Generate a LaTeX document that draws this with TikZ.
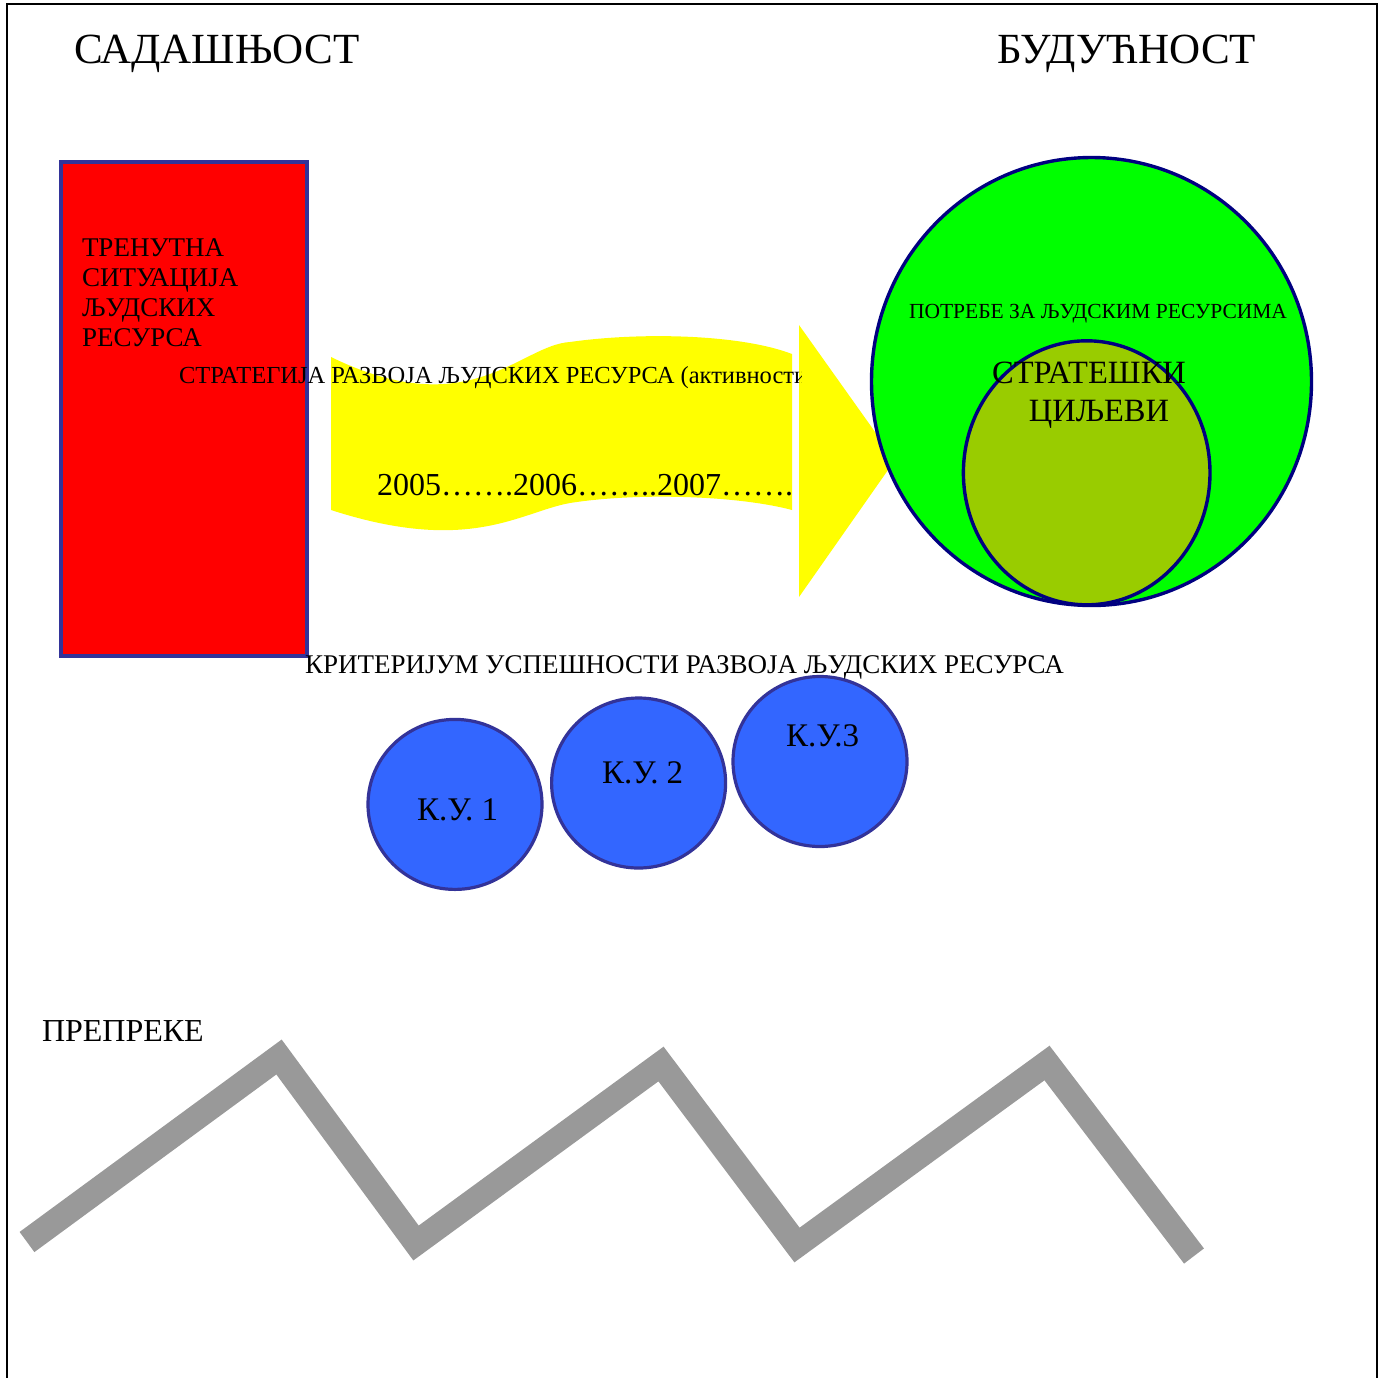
\documentclass[tikz,border=0pt]{standalone}
\usepackage{fontspec}
\setmainfont{Liberation Serif}
\definecolor{redc}{HTML}{FF0000}
\definecolor{bordc}{HTML}{333399}
\definecolor{yel}{HTML}{FFFF00}
\definecolor{grn}{HTML}{00FF00}
\definecolor{navyc}{HTML}{000080}
\definecolor{olivec}{HTML}{99CC00}
\definecolor{bluec}{HTML}{3366FF}
\definecolor{grayc}{HTML}{999999}
\begin{document}
\begin{tikzpicture}[x=1pt,y=-1pt,
  lbl/.style={inner sep=0pt, outer sep=0pt, anchor=base west},
  title/.style={lbl, font=\fontsize{43}{50}\selectfont},
  redtxt/.style={lbl, font=\fontsize{27}{30}\selectfont},
  kubox/.style={draw=bordc, fill=bluec, line width=3.2pt},
  kutxt/.style={lbl, font=\fontsize{33}{38}\selectfont},
  zig/.style={draw=grayc, line width=25pt, line cap=butt, line join=miter}]
\useasboundingbox (0,0) rectangle (1382,1377);
% frame
\draw[line width=1.6pt] (7,1385) -- (7,4) -- (1377,4) -- (1377,1385);
% titles
\node[title] (present) at (74,63) {САДАШЊОСТ};
\node[title] (future) at (997,63) {БУДУЋНОСТ};
% red box
\draw[fill=redc, draw=bordc, line width=4pt] (60.5,161.5) rectangle (307,655.5);
\node[redtxt] (r1) at (82,256) {ТРЕНУТНА};
\node[redtxt] (r2) at (82,286) {СИТУАЦИЈА};
\node[redtxt] (r3) at (82,316) {ЉУДСКИХ};
\node[redtxt] (r4) at (82,346) {РЕСУРСА};
% yellow wave and arrow head
\fill[yel] (331,357) .. controls (470,425) and (520,345) .. (570,342)
  .. controls (640,332) and (740,334) .. (792,354)
  -- (792,510) .. controls (740,496) and (640,492) .. (570,503)
  .. controls (520,512) and (470,555) .. (331,510) -- cycle;
\fill[yel] (799,325) -- (895,460) -- (799,597) -- cycle;
% green circles
\draw[fill=grn, draw=navyc, line width=3.4pt] (1091.5,381.5) ellipse [x radius=220pt, y radius=224pt];
\draw[fill=olivec, draw=navyc, line width=3.4pt] (1086.7,472.8) ellipse [x radius=123.3pt, y radius=132pt];
\node[lbl, font=\fontsize{21.5}{25}\selectfont] (needs) at (909,318) {ПОТРЕБЕ ЗА ЉУДСКИМ РЕСУРСИМА};
\node[inner sep=0pt, anchor=base, font=\fontsize{32.5}{36}\selectfont] (goals1) at (1089,383) {СТРАТЕШКИ};
\node[inner sep=0pt, anchor=base, font=\fontsize{32.5}{36}\selectfont] (goals2) at (1099,421) {ЦИЉЕВИ};
% strategy texts, clipped at the arrow head
\begin{scope}
\clip (0,0) rectangle (801,1377);
\node[lbl, font=\fontsize{24.5}{29}\selectfont] (strat) at (179,383) {СТРАТЕГИЈА РАЗВОЈА ЉУДСКИХ РЕСУРСА (активности)};
\node[lbl, font=\fontsize{32}{36}\selectfont] (years) at (377,495) {2005…….2006……..2007…….};
\end{scope}
% success criteria
\draw[kubox] (455,804.4) ellipse [x radius=87pt, y radius=85pt];
\draw[kubox] (638.6,783) ellipse [x radius=87pt, y radius=85pt];
\draw[kubox] (820,761.5) ellipse [x radius=87pt, y radius=85pt];
\node[lbl, font=\fontsize{27}{32}\selectfont] (crit) at (305,673) {КРИТЕРИЈУМ УСПЕШНОСТИ РАЗВОЈА ЉУДСКИХ РЕСУРСА};
\node[kutxt] (ku1) at (417,820) {К.У. 1};
\node[kutxt] (ku2) at (602,783) {К.У. 2};
\node[kutxt] (ku3) at (786,746) {К.У.3};
% obstacles
\node[lbl, font=\fontsize{32}{36}\selectfont] (obst) at (42,1041) {ПРЕПРЕКЕ};
\coordinate (z1) at (27,1242);
\coordinate (z2) at (279,1057);
\coordinate (z3) at (416,1243);
\coordinate (z4) at (661,1064);
\coordinate (z5) at (797,1245);
\coordinate (z6) at (1047,1063);
\coordinate (z7) at (1194,1256);
\draw[zig] (z1) -- (z2) -- (z3) -- (z4) -- (z5) -- (z6) -- (z7);
\end{tikzpicture}
\end{document}
